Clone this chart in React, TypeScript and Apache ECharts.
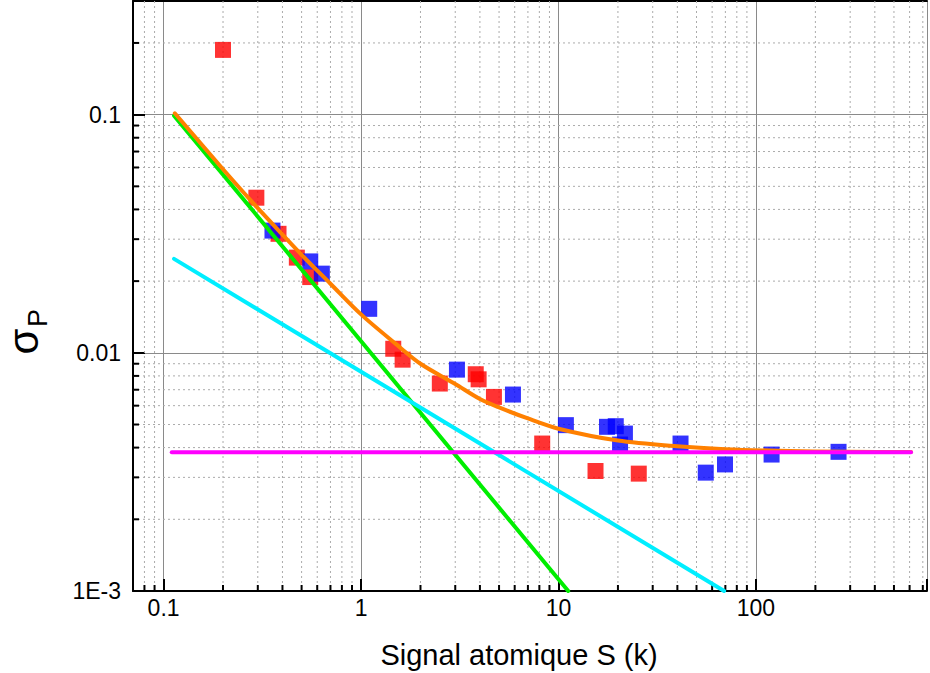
import React, { useEffect, useRef } from 'react';
import * as echarts from 'echarts';

// ---- data ----
const redPoints: [number, number][] = [
  [0.2, 0.187], [0.295, 0.0448], [0.382, 0.0316], [0.473, 0.0251], [0.553, 0.0208],
  [1.456, 0.0104], [1.624, 0.00936], [2.506, 0.00743], [3.81, 0.00813], [3.94, 0.00774],
  [4.71, 0.00653], [8.27, 0.00416], [15.4, 0.00319], [25.5, 0.00311],
];
const bluePoints: [number, number][] = [
  [0.356, 0.0326], [0.553, 0.0242], [0.633, 0.0215], [1.1, 0.0153], [3.06, 0.0085],
  [5.88, 0.00668], [10.9, 0.00497], [17.6, 0.00489], [19.5, 0.00492], [21.7, 0.00458],
  [20.5, 0.00412], [41.5, 0.00416], [55.7, 0.00314], [69.7, 0.0034], [120, 0.00374],
  [262, 0.00384],
];
const greenLine: [number, number][] = [[0.113, 0.099], [11.2, 0.001]];
const cyanLine: [number, number][] = [[0.113, 0.0248], [69, 0.001]];
const magentaLine: [number, number][] = [[0.11, 0.00382], [610, 0.00382]];
const orangeCurve: [number, number][] = [
  [0.114, 0.1013], [0.2, 0.059], [0.3, 0.0405], [0.5, 0.0258], [0.7, 0.0195],
  [1.0, 0.0145], [1.5, 0.0109], [2.0, 0.009], [3.0, 0.0074], [4.0, 0.0064],
  [5.0, 0.0059], [7.0, 0.0053], [10, 0.0048], [20, 0.00428], [40, 0.00405],
  [70, 0.00394], [130, 0.00388], [300, 0.00384], [610, 0.00383],
];

const xTickValues = [0.1, 1, 10, 100];
const xTickLabels = ['0.1', '1', '10', '100'];
const yTickValues = [0.001, 0.01, 0.1];
const yTickLabels = ['1E-3', '0.01', '0.1'];

const xMinorValues = [
  0.08, 0.09,
  0.2, 0.3, 0.4, 0.5, 0.6, 0.7, 0.8, 0.9,
  2, 3, 4, 5, 6, 7, 8, 9,
  20, 30, 40, 50, 60, 70, 80, 90,
  200, 300, 400, 500, 600, 700,
];
const yMinorValues = [
  0.002, 0.003, 0.004, 0.005, 0.006, 0.007, 0.008, 0.009,
  0.02, 0.03, 0.04, 0.05, 0.06, 0.07, 0.08, 0.09,
  0.2,
];

const xTitle = 'Signal atomique S (k)';
const FONT = '"Liberation Sans", Arial, sans-serif';

function labelFor(values: number[], labels: string[]) {
  return (v: number) => {
    for (let i = 0; i < values.length; i++) {
      if (Math.abs(Math.log10(v) - Math.log10(values[i])) < 1e-6) return labels[i];
    }
    return '';
  };
}

export default function App() {
  const ref = useRef<HTMLDivElement>(null);
  useEffect(() => {
    if (!ref.current) return;
    const chart = echarts.init(ref.current, undefined, { renderer: 'svg' });

    const minorStyle = { stroke: '#ababab', lineWidth: 1, lineDash: [2, 3] };
    const minorX = (params: any, api: any) => {
      const cs = params.coordSys;
      const x = api.coord([api.value(0), api.value(1)])[0];
      return {
        type: 'group',
        children: [
          { type: 'line', shape: { x1: x, y1: cs.y, x2: x, y2: cs.y + cs.height }, style: minorStyle },
          { type: 'line', shape: { x1: x, y1: cs.y + cs.height, x2: x, y2: cs.y + cs.height - 6 },
            style: { stroke: '#000', lineWidth: 2 } },
        ],
      };
    };
    const minorY = (params: any, api: any) => {
      const cs = params.coordSys;
      const y = api.coord([api.value(0), api.value(1)])[1];
      return {
        type: 'group',
        children: [
          { type: 'line', shape: { x1: cs.x, y1: y, x2: cs.x + cs.width, y2: y }, style: minorStyle },
          { type: 'line', shape: { x1: cs.x, y1: y, x2: cs.x + 6, y2: y },
            style: { stroke: '#000', lineWidth: 2 } },
        ],
      };
    };

    const lineSeries = (data: [number, number][], color: string, z: number, smooth: any = false) => ({
      type: 'line', data, showSymbol: false, symbol: 'none', smooth, z, silent: true,
      lineStyle: { color, width: 4, cap: 'round', join: 'round' },
    });

    const axisCommonX = { type: 'log', logBase: 10, min: 0.07, max: 735 };

    chart.setOption({
      animation: false,
      backgroundColor: '#fff',
      grid: { left: 133, top: 1, width: 797, height: 590, show: false },
      xAxis: [
        {
          ...axisCommonX,
          axisLine: { show: true, onZero: false, lineStyle: { color: '#000', width: 2 } },
          axisTick: { show: true, inside: true, length: 12, lineStyle: { color: '#000', width: 2 } },
          axisLabel: { formatter: labelFor(xTickValues, xTickLabels), fontSize: 23, color: '#000', fontFamily: FONT, margin: 5 },
          splitLine: { show: true, lineStyle: { color: '#8a8a8a', width: 1 } },
        },
        {
          ...axisCommonX, position: 'top',
          axisLine: { show: true, onZero: false, lineStyle: { color: '#000', width: 2 } },
          axisTick: { show: false }, axisLabel: { show: false }, splitLine: { show: false },
        },
      ],
      yAxis: {
        type: 'log', logBase: 10, min: 0.001, max: 0.3,
        axisLine: { show: true, onZero: false, lineStyle: { color: '#000', width: 2 } },
        axisTick: { show: true, inside: true, length: 12, lineStyle: { color: '#000', width: 2 } },
        axisLabel: { formatter: labelFor(yTickValues, yTickLabels), fontSize: 23, color: '#000', fontFamily: FONT, margin: 12 },
        splitLine: { show: true, lineStyle: { color: '#8a8a8a', width: 1 } },
      },
      graphic: [
        { type: 'text', x: 519, y: 655, silent: true,
          style: { text: xTitle, font: `29px ${FONT}`, fill: '#000', align: 'center', verticalAlign: 'middle', textAlign: 'center', textVerticalAlign: 'middle' } },
        { type: 'text', x: 23, y: 341.5, rotation: Math.PI / 2, silent: true,
          style: { text: 'σ', font: `42px ${FONT}`, lineHeight: 36, fill: '#000', align: 'center', verticalAlign: 'middle', textAlign: 'center', textVerticalAlign: 'middle' } },
        { type: 'text', x: 38, y: 318, rotation: Math.PI / 2, silent: true,
          style: { text: 'P', font: `27px ${FONT}`, lineHeight: 24, fill: '#000', align: 'center', verticalAlign: 'middle', textAlign: 'center', textVerticalAlign: 'middle' } },
      ],
      series: [
        { type: 'custom', renderItem: minorX, data: xMinorValues.map((v) => [v, 0.01]), z: 1, silent: true, encode: { x: 0, y: 1 } },
        { type: 'custom', renderItem: minorY, data: yMinorValues.map((v) => [1, v]), z: 1, silent: true, encode: { x: 0, y: 1 } },
        { type: 'scatter', data: redPoints, symbol: 'rect', symbolSize: 16, z: 3, itemStyle: { color: '#ff0000' } },
        { type: 'scatter', data: bluePoints, symbol: 'rect', symbolSize: 16, z: 3, itemStyle: { color: '#0000ff' } },
        lineSeries(greenLine, '#00ee00', 4),
        lineSeries(cyanLine, '#00eeff', 4),
        lineSeries(orangeCurve, '#ff8000', 5, 0.3),
        lineSeries(magentaLine, '#ff00ff', 6),
      ],
    });
    return () => chart.dispose();
  }, []);
  return <div ref={ref} style={{ position: 'fixed', left: 0, top: 0, width: 930, height: 673 }} />;
}
